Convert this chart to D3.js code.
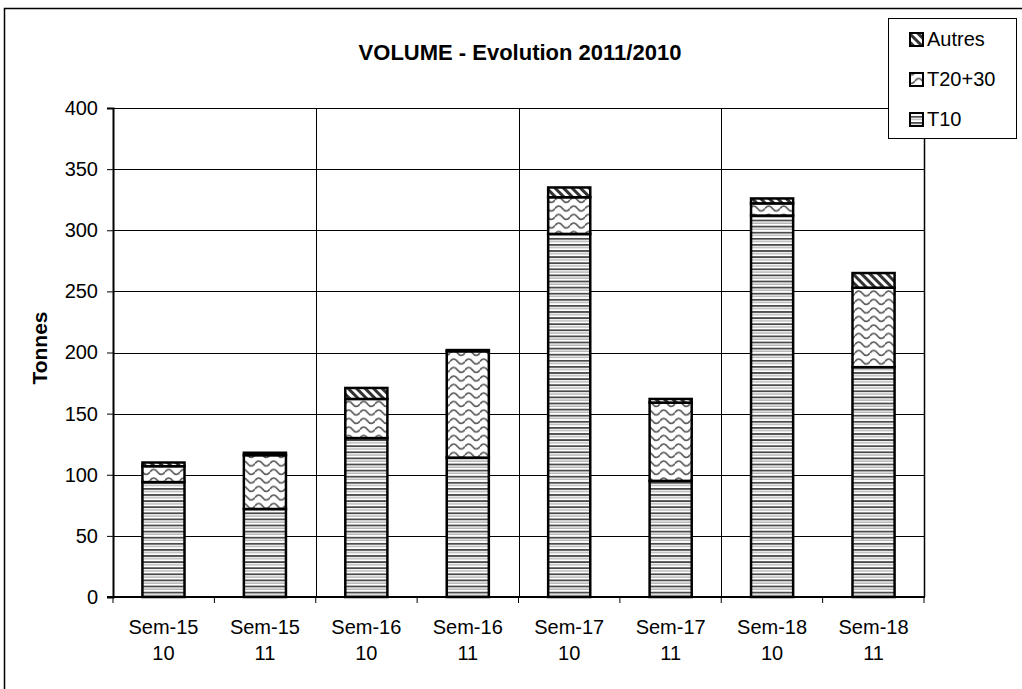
<!DOCTYPE html>
<html>
<head>
<meta charset="utf-8">
<script src="https://cdn.jsdelivr.net/npm/d3@7"></script>
<style>
  body { margin: 0; background: #fff; }
  svg { display: block; }
</style>
</head>
<body>
<div id="chart"></div>
<script>
// categories and values (Tonnes)
const weeks = ["Sem-15", "Sem-15", "Sem-16", "Sem-16", "Sem-17", "Sem-17", "Sem-18", "Sem-18"];
const years = ["10", "11", "10", "11", "10", "11", "10", "11"];
const t10 = [94, 72, 130, 114, 297, 95, 312, 188];
const t2030 = [13, 44, 32, 87, 30, 64, 10, 65];
const autres = [3, 2, 9, 1, 8, 3, 4, 12];
const yTicks = [0, 50, 100, 150, 200, 250, 300, 350, 400];
const seriesNames = ["T10", "T20+30", "Autres"];

const W = 1022, H = 689;
const margin = { left: 113, right: 98, top: 108, bottom: 92 };

const svg = d3.select("#chart").append("svg")
  .attr("width", W).attr("height", H)
  .style("font-family", "Arial, 'Liberation Sans', sans-serif");

// patterns
const defs = svg.append("defs");
const pH = defs.append("pattern").attr("id", "p-t10")
  .attr("patternUnits", "userSpaceOnUse").attr("width", 8).attr("height", 6.1);
pH.append("rect").attr("width", 8).attr("height", 6.1).attr("fill", "#fff");
pH.append("rect").attr("y", 0).attr("width", 8).attr("height", 1.8).attr("fill", "#4a4a4a");
pH.append("rect").attr("y", 3).attr("width", 8).attr("height", 1.3).attr("fill", "#b0b0b0");

const pW = defs.append("pattern").attr("id", "p-t2030")
  .attr("patternUnits", "userSpaceOnUse").attr("width", 15).attr("height", 8.5);
pW.append("rect").attr("width", 15).attr("height", 8.5).attr("fill", "#fff");
pW.append("path").attr("d", "M0,4.5 Q3.75,-0.5 7.5,4.5 T15,4.5")
  .attr("fill", "none").attr("stroke", "#5a5a5a").attr("stroke-width", 1.8);

const pD = defs.append("pattern").attr("id", "p-autres")
  .attr("patternUnits", "userSpaceOnUse").attr("width", 6).attr("height", 6)
  .attr("patternTransform", "rotate(-45)");
pD.append("rect").attr("width", 6).attr("height", 6).attr("fill", "#fff");
pD.append("rect").attr("x", 0).attr("width", 3).attr("height", 6).attr("fill", "#333");

const fills = ["url(#p-t10)", "url(#p-t2030)", "url(#p-autres)"];

// outer border
svg.append("rect").attr("x", 4.5).attr("y", 8.5).attr("width", W + 10).attr("height", H + 10)
  .attr("fill", "none").attr("stroke", "#000").attr("stroke-width", 1.5);

const x = d3.scaleBand().domain(d3.range(weeks.length))
  .range([margin.left, W - margin.right]).paddingInner(0.585).paddingOuter(0.29);
const y = d3.scaleLinear().domain([0, 400]).range([H - margin.bottom, margin.top]);

const plotL = margin.left, plotR = W - margin.right;
const slot = (plotR - plotL) / weeks.length;

// horizontal grid
svg.append("g").selectAll("line").data(yTicks.slice(1)).join("line")
  .attr("x1", plotL).attr("x2", plotR)
  .attr("y1", d => Math.round(y(d)) + 0.5).attr("y2", d => Math.round(y(d)) + 0.5)
  .attr("stroke", "#000").attr("stroke-width", 1);

// vertical grid between groups
svg.append("g").selectAll("line").data([2, 4, 6]).join("line")
  .attr("x1", d => Math.round(plotL + d * slot) + 0.5).attr("x2", d => Math.round(plotL + d * slot) + 0.5)
  .attr("y1", y(400)).attr("y2", y(0))
  .attr("stroke", "#000").attr("stroke-width", 1);

// plot border right
svg.append("line").attr("x1", plotR + 0.5).attr("x2", plotR + 0.5)
  .attr("y1", y(400)).attr("y2", y(0)).attr("stroke", "#000").attr("stroke-width", 1.5);

// stacked bars
const stackData = weeks.map((w, i) => ({ i, T10: t10[i], "T20+30": t2030[i], Autres: autres[i] }));
const stacked = d3.stack().keys(seriesNames)(stackData);

stacked.forEach((layer, k) => {
  svg.append("g").selectAll("rect").data(layer).join("rect")
    .attr("x", d => x(d.data.i))
    .attr("width", x.bandwidth())
    .attr("y", d => y(d[1]))
    .attr("height", d => y(d[0]) - y(d[1]))
    .attr("fill", fills[k])
    .attr("stroke", "#000").attr("stroke-width", 2.5);
});

// y axis
const yAxis = svg.append("g").attr("transform", `translate(${plotL},0)`)
  .call(d3.axisLeft(y).tickValues(yTicks).tickSize(6).tickPadding(9));
yAxis.select(".domain").attr("stroke-width", 2);
yAxis.selectAll(".tick line").attr("stroke-width", 1);
yAxis.selectAll("text").attr("font-size", 20).attr("fill", "#000")
  .attr("font-family", "Arial, 'Liberation Sans', sans-serif");

// x axis
const xAxisG = svg.append("g").attr("transform", `translate(0,${y(0)})`);
xAxisG.append("line").attr("x1", plotL - 6).attr("x2", plotR + 1)
  .attr("y1", 0).attr("y2", 0).attr("stroke", "#000").attr("stroke-width", 2);
xAxisG.selectAll("line.tk").data(d3.range(weeks.length + 1)).join("line")
  .attr("class", "tk")
  .attr("x1", d => plotL + d * slot).attr("x2", d => plotL + d * slot)
  .attr("y1", 0).attr("y2", 6).attr("stroke", "#000");
const xl = xAxisG.selectAll("text").data(d3.range(weeks.length)).join("text")
  .attr("x", d => x(d) + x.bandwidth() / 2)
  .attr("text-anchor", "middle").attr("font-size", 20);
xl.append("tspan").attr("x", d => x(d) + x.bandwidth() / 2).attr("y", 37).text(d => weeks[d]);
xl.append("tspan").attr("x", d => x(d) + x.bandwidth() / 2).attr("y", 63).text(d => years[d]);

// y label
svg.append("text").attr("transform", "translate(47,348) rotate(-90)")
  .attr("text-anchor", "middle").attr("font-size", 21).attr("font-weight", "bold")
  .text("Tonnes");

// title
svg.append("text").attr("x", 520).attr("y", 60)
  .attr("text-anchor", "middle").attr("font-size", 22).attr("font-weight", "bold")
  .text("VOLUME - Evolution 2011/2010");

// legend
const lg = svg.append("g");
lg.append("rect").attr("x", 888.5).attr("y", 18.5).attr("width", 128).attr("height", 120)
  .attr("fill", "#fff").attr("stroke", "#000").attr("stroke-width", 1);
const legendItems = [
  { name: "Autres", fill: fills[2], y: 46 },
  { name: "T20+30", fill: fills[1], y: 86 },
  { name: "T10", fill: fills[0], y: 126 }
];
legendItems.forEach(it => {
  lg.append("rect").attr("x", 910).attr("y", it.y - 13).attr("width", 13).attr("height", 13)
    .attr("fill", it.fill).attr("stroke", "#000").attr("stroke-width", 2);
  lg.append("text").attr("x", 927).attr("y", it.y).attr("font-size", 20).text(it.name);
});
</script>
</body>
</html>
